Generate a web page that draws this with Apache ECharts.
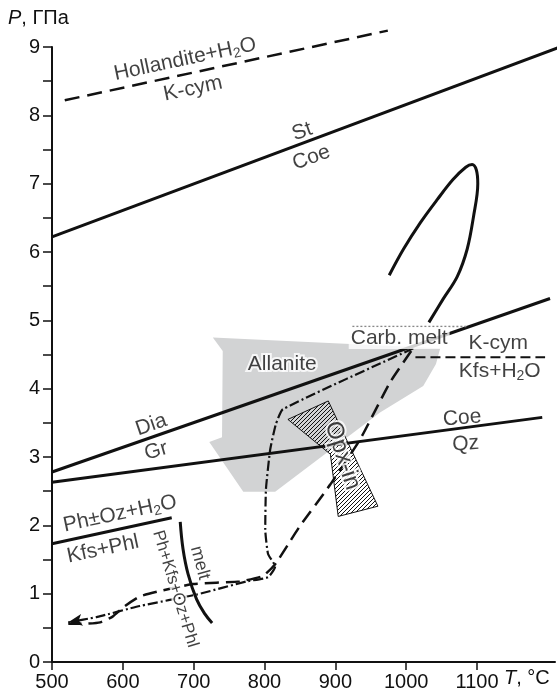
<!DOCTYPE html>
<html>
<head>
<meta charset="utf-8">
<script src="https://cdn.jsdelivr.net/npm/echarts@6/dist/echarts.min.js"></script>
<style>
html, body { margin: 0; padding: 0; background: #fff; }
#chart { width: 560px; height: 693px; }
</style>
</head>
<body>
<div id="chart"></div>
<script>
// axes
var xTicks = [500, 600, 700, 800, 900, 1000, 1100];
var yTicks = [0, 0.5, 1, 1.5, 2, 2.5, 3, 3.5, 4, 4.5, 5, 5.5, 6, 6.5, 7, 7.5, 8, 8.5, 9];
var yLabels = [0, 1, 2, 3, 4, 5, 6, 7, 8, 9];

// reaction lines [T, P]
var hollandite = [[518, 8.22], [974, 9.24]];
var stCoe = [[500, 6.22], [1217, 9.0]];
var diaGr = [[500, 2.78], [1203, 5.32]];
var coeQz = [[500, 2.63], [1192, 3.58]];
var phKfs = [[500, 1.73], [669, 2.11]];
var meltCurve = [[681, 2.05], [685, 1.65], [692, 1.29], [704, 0.92], [716, 0.70], [726, 0.57]];
var kcymKfs = [[1013, 4.46], [1196, 4.46]];
var carbMelt = [[924, 4.91], [1087, 4.91]];
var loop = [[976, 5.66], [996, 6.04], [1020, 6.43], [1044, 6.77], [1066, 7.06], [1084, 7.24], [1093, 7.28],
    [1099, 7.2], [1101, 7.0], [1095, 6.52], [1086, 6.04], [1072, 5.64], [1052, 5.31], [1032, 4.97]];

// P-T paths
var dashedPath = [[1007, 4.55], [977, 4.09], [935, 3.26], [893, 2.60], [850, 1.99], [832, 1.70], [815, 1.43],
    [798, 1.26], [765, 1.18], [699, 1.14], [653, 1.04], [624, 0.96], [603, 0.82], [585, 0.66], [568, 0.58], [547, 0.56], [523, 0.56]];
var dashDotPath = [[1010, 4.59], [826, 3.70], [816, 3.48], [808, 3.11], [802, 2.53], [801, 1.94], [805, 1.58],
    [815, 1.40], [805, 1.24], [775, 1.18], [705, 0.99], [624, 0.82], [564, 0.66], [523, 0.58]];

// fields
var allanite = [[727, 4.75], [1048, 4.59], [1042, 4.36], [1024, 4.04], [963, 3.65], [815, 2.49], [770, 2.49],
    [722, 3.22], [740, 3.29], [741, 4.55]];
var opxIn = [[833, 3.55], [890, 3.82], [960, 2.28], [904, 2.13], [893, 3.04]];

// annotations
var labelText = ['Hollandite+H{sub|2}O', 'K-cym', 'St', 'Coe', 'Dia', 'Gr', 'Allanite', 'Carb. melt', 'K-cym',
    'Kfs+H{sub|2}O', 'Coe', 'Qz', 'Opx-in', 'Ph±Oz+H{sub|2}O', 'Kfs+Phl', 'Ph+Kfs+Oz+Phl', 'melt'];
var labelT = [688, 699, 853, 866, 640, 647, 825, 990, 1130, 1132, 1079, 1084, 910, 596, 572, 674, 709];
var labelP = [8.82, 8.39, 7.76, 7.38, 3.47, 3.09, 4.36, 4.74, 4.67, 4.26, 3.57, 3.19, 3.02, 2.17, 1.65, 1.07, 1.45];
var labelRot = [12, 12, 20, 20, 19, 16, 0, 0, 0, 0, 5, 4, -72, 12, 12, -73, -75];

var FONT = '"Liberation Sans", Arial, sans-serif';
var INK = '#111';

var hatch = document.createElement('canvas');
hatch.width = 4;
hatch.height = 4;
var g = hatch.getContext('2d');
g.strokeStyle = '#111';
g.lineWidth = 1;
g.beginPath();
g.moveTo(0, 4); g.lineTo(4, 0);
g.moveTo(-1, 1); g.lineTo(1, -1);
g.moveTo(3, 5); g.lineTo(5, 3);
g.stroke();

function polygon(points, style, z) {
    return {
        type: 'custom',
        coordinateSystem: 'cartesian2d',
        silent: true,
        z: z,
        data: points,
        renderItem: function (params, api) {
            if (params.dataIndex !== 0) return null;
            return {
                type: 'polygon',
                shape: { points: points.map(function (p) { return api.coord(p); }) },
                style: style
            };
        }
    };
}

function line(data, width, type, smooth) {
    return {
        type: 'line',
        data: data,
        symbol: 'none',
        smooth: smooth || false,
        clip: false,
        silent: true,
        z: 3,
        lineStyle: { color: INK, width: width, type: type, cap: 'butt' }
    };
}

var outlined = { 'Allanite': 1, 'Opx-in': 1, 'Ph+Kfs+Oz+Phl': 1, 'melt': 1 };
var sizeOf = { 'Opx-in': 24, 'Ph+Kfs+Oz+Phl': 17, 'melt': 18 };

var labels = labelText.map(function (t, i) {
    var lab = { rotate: labelRot[i] };
    if (outlined[t]) {
        lab.textBorderColor = '#fff';
        lab.textBorderWidth = 4;
    }
    if (sizeOf[t]) lab.fontSize = sizeOf[t];
    if (t === 'Carb. melt') {
        lab.backgroundColor = '#fff';
        lab.padding = [1, 2, 0, 2];
    }
    return { value: [labelT[i], labelP[i]], name: t, label: lab };
});

var lastIdx = dashDotPath.length - 1;
var dashDotData = dashDotPath.map(function (p, i) {
    if (i === lastIdx) {
        return { value: p, symbol: 'arrow', symbolSize: [9, 14], symbolRotate: 100 };
    }
    return { value: p, symbolSize: 0 };
});

var dashDot = line(dashDotData, 2.2, [10, 3, 2, 3], 0.15);
dashDot.symbol = 'arrow';
dashDot.showSymbol = true;
dashDot.itemStyle = { color: INK };

var chart = echarts.init(document.getElementById('chart'), null, { renderer: 'canvas' });

chart.setOption({
    animation: false,
    backgroundColor: '#fff',
    grid: { left: 52, right: 5, top: 47, bottom: 31, containLabel: false },
    xAxis: {
        type: 'value',
        min: 500,
        max: 1210,
        splitLine: { show: false },
        axisLine: { onZero: false, lineStyle: { color: INK, width: 2 } },
        axisTick: { length: 8, customValues: xTicks, lineStyle: { color: INK, width: 1.5 } },
        axisLabel: {
            customValues: xTicks, margin: 10, fontSize: 20, fontFamily: FONT, color: INK,
            formatter: function (v) { return String(v); }
        }
    },
    yAxis: {
        type: 'value',
        min: 0,
        max: 9,
        splitLine: { show: false },
        axisLine: { onZero: false, lineStyle: { color: INK, width: 2 } },
        axisTick: { length: 9, customValues: yTicks, lineStyle: { color: INK, width: 1.5 } },
        axisLabel: {
            customValues: yLabels, margin: 12, fontSize: 20, fontFamily: FONT, color: INK,
            formatter: function (v) { return String(v); }
        }
    },
    graphic: [
        {
            type: 'text', left: 8, top: 8, z: 20,
            style: {
                text: '{i|P}, ГПа', font: '20px ' + FONT, fill: INK,
                rich: { i: { fontStyle: 'italic', fontSize: 20, fontFamily: FONT } }
            }
        },
        {
            type: 'text', left: 504, top: 668, z: 20,
            style: {
                text: '{i|T}, °C', font: '20px ' + FONT, fill: INK,
                rich: { i: { fontStyle: 'italic', fontSize: 20, fontFamily: FONT } }
            }
        }
    ],
    series: [
        polygon(allanite, { fill: '#d2d3d4', stroke: null }, 1),
        polygon(opxIn, { fill: { image: hatch, repeat: 'repeat' }, stroke: INK, lineWidth: 1 }, 2),
        line(hollandite, 2.5, [15, 8]),
        line(stCoe, 3),
        line(diaGr, 3),
        line(coeQz, 3),
        line(phKfs, 3),
        line(meltCurve, 3, 'solid', 0.4),
        line(kcymKfs, 1.8, [10, 5]),
        Object.assign(line(carbMelt, 1.5, [2, 2]), { lineStyle: { color: '#888', width: 1.5, type: [2, 2] } }),
        line(loop, 3, 'solid', 0.35),
        line(dashedPath, 2.5, [14, 7], 0.15),
        dashDot,
        {
            type: 'scatter',
            data: labels,
            symbolSize: 0,
            silent: true,
            z: 10,
            label: {
                show: true,
                position: 'inside',
                formatter: '{b}',
                fontSize: 21,
                fontFamily: FONT,
                color: INK,
                rich: {
                    sub: { fontSize: 14, fontFamily: FONT, color: INK, padding: [10, 0, 0, 0] }
                }
            }
        }
    ]
});
</script>
</body>
</html>
